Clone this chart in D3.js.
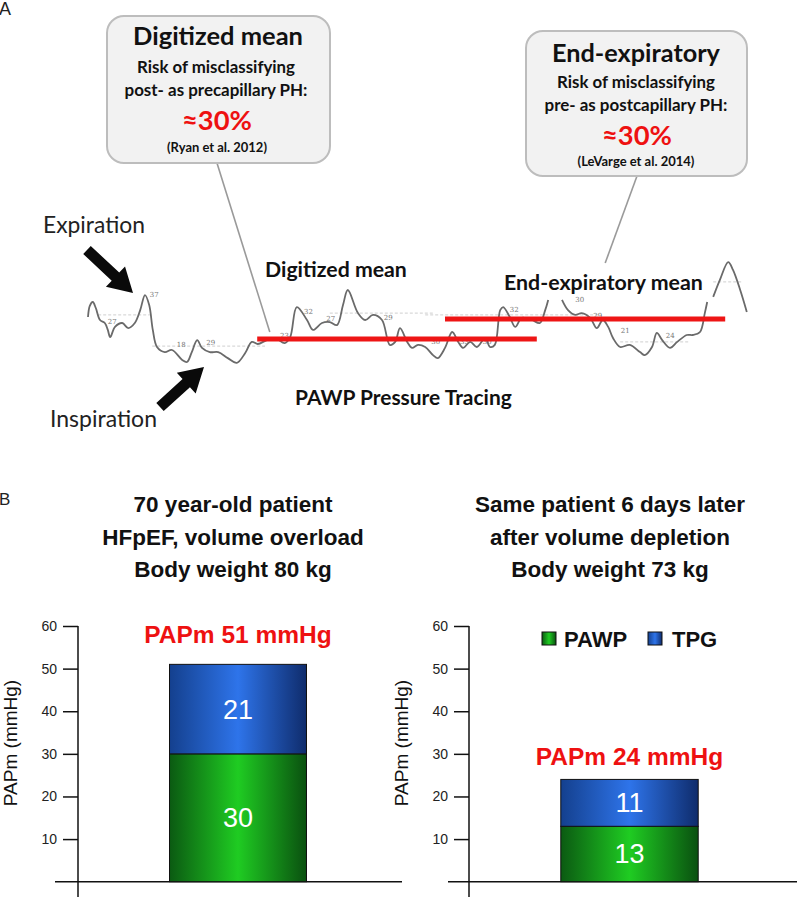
<!DOCTYPE html>
<html><head><meta charset="utf-8">
<script src="https://cdn.jsdelivr.net/npm/d3@7"></script>
<style>body{margin:0;background:#fff}svg{display:block}</style>
</head><body>
<script>
// ---------- DATA ----------
// Panel A: PAWP tracing (time in s, pressure in mmHg); null = gap in tracing
const traceT = [0,0.03,0.08,0.13,0.2,0.28,0.33,0.37,0.45,0.57,0.67,0.78,0.87,0.95,1.02,1.08,1.15,1.28,1.4,1.57,1.65,1.73,1.82,1.9,2.03,2.17,2.33,2.48,2.62,2.73,2.83,2.98,3.12,3.28,3.37,3.48,3.65,3.75,3.9,4.03,4.15,4.25,4.33,4.5,4.62,4.75,4.9,5.03,5.12,5.2,5.32,5.4,5.5,5.62,5.75,5.83,5.95,6.07,6.17,6.25,6.37,6.48,6.62,6.7,6.78,6.87,6.92,7.03,7.12,7.23,7.4,7.53,7.62,7.67,7.8,7.9,8.0,8.12,8.23,8.37,8.48,8.58,8.67,8.75,8.87,9.03,9.2,9.28,9.4,9.48,9.57,9.7,9.82,9.98,10.08,10.2,10.28,10.32,10.37,10.42,10.53,10.67,10.75,10.87,10.98];
const traceP = [29,32.7,34,32,28,27,24.7,22.3,25.7,27,25.3,27,31.3,36.3,33,24.7,19,17.3,18,14.7,14,17.3,21.3,18.7,17.3,17.3,15.3,13.7,17,20.7,20,21.3,22,20.3,22.3,32.3,28,24.7,27,27.3,26.3,33,38,30.3,28,29.7,28,19.7,20.7,25.3,20.7,18.7,19.7,19,16.3,15.3,18.7,24,20.7,18.7,20.7,19,22,19,19.7,31.3,32.3,29,25.7,28.7,28,27,31.3,34.7,null,34.7,31.3,29.7,30.3,28.7,25.3,28,25.7,22,19,19.7,17.3,16.3,19,23.7,21.3,18.7,20.7,23,23,24,30.3,34,null,35.7,41.3,47.3,44.7,38,30.7];
// small beat annotations printed on the tracing
const beatLabels = ["27","37","18","29","23","32","27","29","30","33","30","32","30","29","21","24"];
const beatT = [0.33,1.03,1.48,1.97,3.2,3.6,3.97,4.93,5.72,6.2,6.58,7.03,8.12,8.42,8.88,9.63];
const beatP = [26.7,35.7,19,19.7,22,30,27.7,28,20,20,20,30.7,34,28.7,23.7,22];
// faint reference lines on the tracing
const refT0 = [0.17,1.07,4.03,5.62,8.87,10.42];
const refT1 = [1.03,2.95,5.78,8.53,10.03,10.92];
const refP  = [29.7,19.3,30.3,29.7,20.7,40.7];
// mean lines
const meanNames = ["Digitized mean","End-expiratory mean"];
const meanT0 = [2.82,5.95];
const meanT1 = [7.48,10.62];
const meanP = [21.7,28.3];

// Panel B: stacked bars
const patientTitles = [
  ["70 year-old patient","HFpEF, volume overload","Body weight 80 kg"],
  ["Same patient 6 days later","after volume depletion","Body weight 73 kg"]
];
const categories = ["Volume overload","After depletion"];
const pawpValues = [30,13];
const tpgValues = [21,11];
const papmValues = [51,24];
const seriesNames = ["PAWP","TPG"];
const yTicks = [10,20,30,40,50,60];

// ---------- DRAW ----------
const W=797,H=897;
const svg=d3.select("body").append("svg").attr("width",W).attr("height",H);
const defs=svg.append("defs");
function hGrad(id,edgeL,mid,edgeR){
  const g=defs.append("linearGradient").attr("id",id).attr("x1","0%").attr("x2","100%").attr("y1","0%").attr("y2","0%");
  g.append("stop").attr("offset","0%").attr("stop-color",edgeL);
  g.append("stop").attr("offset","50%").attr("stop-color",mid);
  g.append("stop").attr("offset","100%").attr("stop-color",edgeR);
}
hGrad("gGreen","#0b5a12","#1fcc22","#0a5010");
hGrad("gBlue","#14408e","#2e74ea","#0f2c6c");

const fontA="Lato, 'Open Sans', sans-serif";
const fontB="'Liberation Sans', Arial, sans-serif";
function fit(sel,w){const l=sel.node().getComputedTextLength();const fs=parseFloat(sel.attr("font-size"));sel.attr("font-size",fs*w/l);return sel;}
function txt(x,y,s,o){
  const t=svg.append("text").attr("x",x).attr("y",y).text(s)
   .attr("font-family",o.f||fontA).attr("font-size",o.fs||16).attr("font-weight",o.b?"bold":"normal")
   .attr("fill",o.c||"#111").attr("text-anchor",o.a||"middle");
  if(o.w) fit(t,o.w);
  return t;
}

// Panel labels
txt(-1,15,"A",{f:fontB,fs:18,a:"start",c:"#222"});
txt(-1,505,"B",{f:fontB,fs:17,a:"start",c:"#222"});

// ---- Panel A scales ----
const xA=d3.scaleLinear().domain([0,11]).range([88,748]);
const yA=d3.scaleLinear().domain([37,18]).range([293,350]);

// reference faint lines
svg.append("g").selectAll("line").data(refP).join("line")
  .attr("x1",(d,i)=>xA(refT0[i])).attr("x2",(d,i)=>xA(refT1[i]))
  .attr("y1",d=>yA(d)).attr("y2",d=>yA(d))
  .attr("stroke","#cfcfcf").attr("stroke-width",1).attr("stroke-dasharray","3,2");

// tracing
const tracePts=traceT.map((t,i)=>({t,p:traceP[i]}));
svg.append("path").datum(tracePts)
  .attr("d",d3.line().defined(d=>d.p!=null).x(d=>xA(d.t)).y(d=>yA(d.p)).curve(d3.curveCatmullRom.alpha(0.5)))
  .attr("fill","none").attr("stroke","#6a6a6a").attr("stroke-width",1.8);

// beat labels
svg.append("g").selectAll("text").data(beatLabels).join("text")
  .attr("x",(d,i)=>xA(beatT[i])).attr("y",(d,i)=>yA(beatP[i]))
  .attr("font-family","'DejaVu Serif', serif").attr("font-size",7).attr("fill","#777").text(d=>d);

// mean lines
svg.append("g").selectAll("line").data(meanP).join("line")
  .attr("x1",(d,i)=>xA(meanT0[i])).attr("x2",(d,i)=>xA(meanT1[i]))
  .attr("y1",d=>yA(d)).attr("y2",d=>yA(d))
  .attr("stroke","#ee1515").attr("stroke-width",5);

// callout boxes
function box(x,y,w,h){svg.append("rect").attr("x",x).attr("y",y).attr("width",w).attr("height",h).attr("rx",17)
  .attr("fill","#f2f2f2").attr("stroke","#bdbdbd").attr("stroke-width",2);}
// connectors
svg.append("line").attr("x1",217).attr("y1",163).attr("x2",xA(3.03)).attr("y2",yA(24)).attr("stroke","#9a9a9a").attr("stroke-width",1.6);
svg.append("line").attr("x1",637).attr("y1",176).attr("x2",xA(8.62)).attr("y2",yA(47)).attr("stroke","#9a9a9a").attr("stroke-width",1.6);
box(107,16,223,147);
box(526,31,221,145);
txt(218,45,"Digitized mean",{b:1,fs:22,w:170});
txt(216,73,"Risk of misclassifying",{b:1,fs:15,w:158});
txt(216,96,"post- as precapillary PH:",{b:1,fs:15,w:183});
txt(217,130,"≈30%",{b:1,fs:24,w:70,c:"#ee1111"});
txt(217,152,"(Ryan et al. 2012)",{b:1,fs:10,w:100});
txt(636,62,"End-expiratory",{b:1,fs:22,w:168});
txt(636,88,"Risk of misclassifying",{b:1,fs:15,w:158});
txt(636,111,"pre- as postcapillary PH:",{b:1,fs:15,w:183});
txt(637,145,"≈30%",{b:1,fs:24,w:70,c:"#ee1111"});
txt(636,166,"(LeVarge et al. 2014)",{b:1,fs:10,w:117});

// annotations
txt(43,233,"Expiration",{fs:20,w:102,a:"start",c:"#222"});
txt(50,427,"Inspiration",{fs:20,w:107,a:"start",c:"#222"});
txt(265,277,meanNames[0],{b:1,fs:17,w:142,a:"start"});
txt(504,290,meanNames[1],{b:1,fs:17,w:199,a:"start"});
txt(295,405,"PAWP Pressure Tracing",{b:1,fs:17,w:217,a:"start"});

// arrows
function arrow(x0,y0,x1,y1){
  const dx=x1-x0,dy=y1-y0,L=Math.hypot(dx,dy),ux=dx/L,uy=dy/L,nx=-uy,ny=ux;
  const hl=24,hw=14,sw=5.5;
  const bx=x1-ux*hl,by=y1-uy*hl;
  const pts=[[x0+nx*sw,y0+ny*sw],[bx+nx*sw,by+ny*sw],[bx+nx*hw,by+ny*hw],[x1,y1],[bx-nx*hw,by-ny*hw],[bx-nx*sw,by-ny*sw],[x0-nx*sw,y0-ny*sw]];
  svg.append("path").attr("d","M"+pts.map(p=>p.join(",")).join("L")+"Z").attr("fill","#0a0a0a");
}
arrow(87,250,133,293);
arrow(160,407,204,367);

// ---- Panel B ----
const yB=d3.scaleLinear().domain([0,60]).range([881.7,626]);
const charts=[{ax:78,x0:55,x1:402,r:[78,398],tc:233,labGap:21},{ax:469,x0:448,x1:797,r:[469,790],tc:610,labGap:14}];
charts.forEach((c,i)=>{
  const g=svg.append("g");
  // title
  patientTitles[i].forEach((s,k)=>{
    g.append("text").attr("x",c.tc).attr("y",512+k*32.5).attr("text-anchor","middle")
     .attr("font-family",fontB).attr("font-weight","bold").attr("font-size",22.5).attr("fill","#111").text(s);
  });
  const xB=d3.scaleBand().domain([categories[i]]).range(c.r).paddingInner(0).paddingOuter(0.668);
  // axes
  g.append("line").attr("x1",c.x0).attr("x2",c.x1).attr("y1",yB(0)).attr("y2",yB(0)).attr("stroke","#111").attr("stroke-width",1.5);
  g.append("line").attr("x1",c.ax).attr("x2",c.ax).attr("y1",yB(60)).attr("y2",897).attr("stroke","#111").attr("stroke-width",1.5);
  const ax=g.append("g").attr("transform",`translate(${c.ax},0)`)
    .call(d3.axisLeft(yB).tickValues(yTicks).tickSize(15).tickPadding(6).tickSizeOuter(0));
  ax.select(".domain").remove();
  ax.selectAll(".tick line").attr("stroke","#111").attr("stroke-width",1.5);
  ax.selectAll(".tick text").attr("font-family",fontB).attr("font-size",14).attr("fill","#222");
  g.append("text").attr("transform",`translate(${c.ax-61},743) rotate(-90)`).attr("text-anchor","middle")
    .attr("font-family",fontB).attr("font-size",19).attr("fill","#111").text("PAPm (mmHg)");
  // bars
  const cat=categories[i],bx=xB(cat),bw=xB.bandwidth();
  const segs=[{v0:0,v1:pawpValues[i],fill:"url(#gGreen)"},{v0:pawpValues[i],v1:pawpValues[i]+tpgValues[i],fill:"url(#gBlue)"}];
  g.selectAll("rect.seg").data(segs).join("rect").attr("class","seg")
    .attr("x",bx).attr("width",bw).attr("y",d=>yB(d.v1)).attr("height",d=>yB(d.v0)-yB(d.v1))
    .attr("fill",d=>d.fill).attr("stroke","#111").attr("stroke-width",1);
  g.selectAll("text.val").data(segs).join("text").attr("class","val")
    .attr("x",bx+bw/2).attr("y",d=>(yB(d.v0)+yB(d.v1))/2+9.5).attr("text-anchor","middle")
    .attr("font-family",fontB).attr("font-size",27).attr("fill","#fff").text(d=>d.v1-d.v0);
  g.append("text").attr("x",bx+bw/2).attr("y",yB(papmValues[i])-c.labGap).attr("text-anchor","middle")
    .attr("font-family",fontB).attr("font-weight","bold").attr("font-size",24.5).attr("fill","#ee1111")
    .text(`PAPm ${papmValues[i]} mmHg`);
});
// legend (right chart)
const leg=svg.append("g");
const legX=[542,648],legTX=[564,672],legF=["url(#gGreen)","url(#gBlue)"];
seriesNames.forEach((s,i)=>{
  leg.append("rect").attr("x",legX[i]).attr("y",632).attr("width",14).attr("height",13).attr("fill",legF[i]).attr("stroke","#111").attr("stroke-width",1);
  leg.append("text").attr("x",legTX[i]).attr("y",646.5).attr("font-family",fontB).attr("font-weight","bold").attr("font-size",22).attr("fill","#111").text(s);
});
</script>
</body></html>
